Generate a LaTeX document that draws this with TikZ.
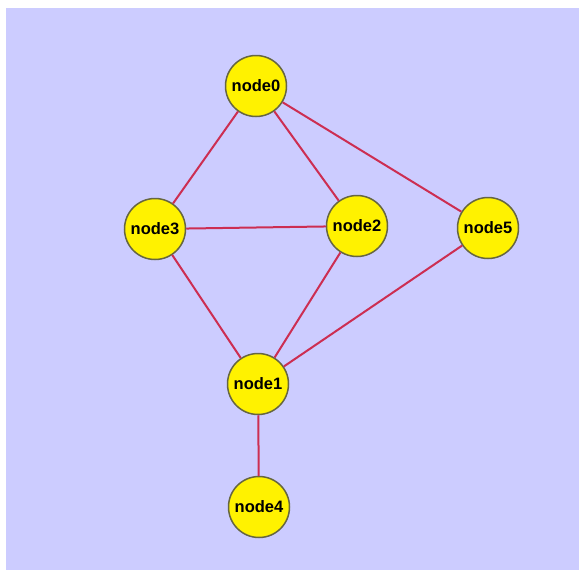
\documentclass[tikz,border=0pt]{standalone}
\usepackage{fontspec}
\setsansfont{Liberation Sans}
\usepackage{tikz}
\definecolor{backg}{rgb}{0.8, 0.8, 1}
\definecolor{edgecol}{rgb}{0.8, 0.18, 0.32}
\definecolor{rimcol}{rgb}{0.4, 0.4, 0.25}
\tikzstyle{vertex}=[circle,draw=rimcol,line width=1.5pt,fill=yellow,minimum size=61pt,inner sep=0pt,font=\sffamily\bfseries\fontsize{16.5}{16.5}\selectfont]
\tikzstyle{link}=[edgecol,line width=2pt]

\begin{document}
\begin{tikzpicture}[x=1pt,y=-1pt]
  \useasboundingbox (0,0) rectangle (579,571);
  \fill[backg] (6,8) rectangle (579,570);

  \node[vertex] (node0) at (256,86) {node0};
  \node[vertex] (node3) at (155,229) {node3};
  \node[vertex] (node2) at (357,226) {node2};
  \node[vertex] (node5) at (488,228) {node5};
  \node[vertex] (node1) at (258,384) {node1};
  \node[vertex] (node4) at (259,507) {node4};

  % edges
  \draw[link] (node0) -- (node3);
  \draw[link] (node0) -- (node2);
  \draw[link] (node0) -- (node5);
  \draw[link] (node3) -- (node2);
  \draw[link] (node3) -- (node1);
  \draw[link] (node2) -- (node1);
  \draw[link] (node5) -- (node1);
  \draw[link] (node1) -- (node4);

\end{tikzpicture}
\end{document}
